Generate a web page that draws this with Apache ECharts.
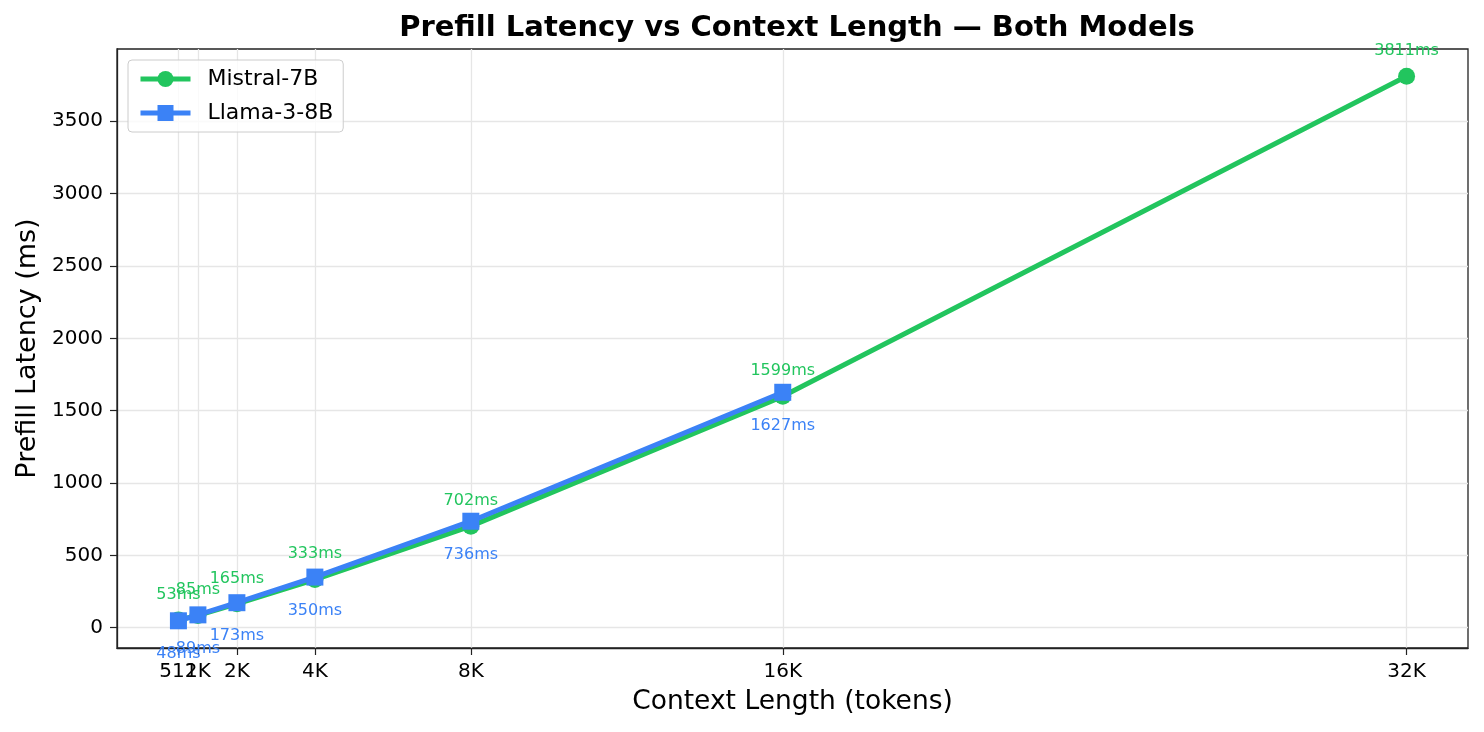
<!DOCTYPE html>
<html>
<head>
    <meta charset="utf-8">
    <script src="https://cdn.jsdelivr.net/npm/echarts@6/dist/echarts.min.js"></script>
    <style>
        body{
            margin:0;
            padding:0;
            background:#fff;
        }
    </style>
</head>
<body>
<div id="main" style="width:1484px;height:732px;"></div>
<script type="text/javascript">
// context lengths (tokens) and their tick labels
const ctxLengths = [512, 1024, 2048, 4096, 8192, 16384, 32768];
const ctxLabels = ['512', '1K', '2K', '4K', '8K', '16K', '32K'];
// prefill latency in ms
const mistralMs = [53, 85, 165, 333, 702, 1599, 3811];
const llamaMs = [48, 89, 173, 350, 736, 1627];
const yTicks = [0, 500, 1000, 1500, 2000, 2500, 3000, 3500];

const green = '#22c55e';
const blue = '#3b82f6';
const font = 'DejaVu Sans';

function pairs(ys) {
  return ys.map(function (y, i) { return [ctxLengths[i], y]; });
}
function ctxLabel(v) {
  var i = ctxLengths.indexOf(v);
  return i >= 0 ? ctxLabels[i] : '';
}

// 512 and 1K overlap, so the 1K label sits on a second bottom axis
// (ECharts would otherwise drop one of them)
const mainLabelValues = ctxLengths.filter(function (v) { return v !== 1024; });
const extraLabelValues = [1024];

var myChart = echarts.init(document.getElementById('main'));

var labelStyle = {
  hideOverlap: false,
  margin: 14,
  fontFamily: font,
  fontSize: 20,
  color: '#000',
  formatter: ctxLabel
};

option = {
  animation: false,
  textStyle: { fontFamily: font },
  title: {
    text: 'Prefill Latency vs Context Length \u2014 Both Models',
    left: 792,
    top: 9,
    textAlign: 'center',
    textStyle: { fontFamily: font, fontSize: 29, fontWeight: 'bold', color: '#000' }
  },
  legend: {
    orient: 'vertical',
    left: 128,
    top: 60,
    padding: [8, 10],
    itemWidth: 50,
    itemHeight: 20,
    itemGap: 12,
    backgroundColor: 'rgba(255,255,255,0.8)',
    borderColor: '#cccccc',
    borderWidth: 1,
    borderRadius: 4,
    lineStyle: { width: 5 },
    textStyle: { fontFamily: font, fontSize: 22, color: '#000', padding: [0, 0, 0, 12] },
    data: ['Mistral-7B', 'Llama-3-8B']
  },
  grid: {
    show: true,
    left: 117,
    top: 49,
    width: 1351,
    height: 599,
    borderColor: '#222',
    borderWidth: 1.3,
    containLabel: false
  },
  xAxis: [
    {
      type: 'value',
      position: 'bottom',
      min: -1101,
      max: 34381,
      name: 'Context Length (tokens)',
      nameLocation: 'middle',
      nameGap: 41,
      nameTextStyle: { fontFamily: font, fontSize: 26.5, color: '#000' },
      axisLine: { show: true, onZero: false, lineStyle: { color: '#222', width: 1.3 } },
      axisTick: { show: true, length: 7, customValues: ctxLengths, lineStyle: { color: '#222', width: 1.2 } },
      axisLabel: Object.assign({ customValues: mainLabelValues }, labelStyle),
      splitLine: { show: true, lineStyle: { color: '#e6e6e6', width: 1.3 } }
    },
    {
      type: 'value',
      position: 'bottom',
      min: -1101,
      max: 34381,
      axisLine: { show: false, onZero: false },
      axisTick: { show: false },
      axisLabel: Object.assign({ customValues: extraLabelValues }, labelStyle),
      splitLine: { show: false }
    }
  ],
  yAxis: {
    type: 'value',
    min: -140,
    max: 3999,
    name: 'Prefill Latency (ms)',
    nameLocation: 'middle',
    nameGap: 76,
    nameTextStyle: { fontFamily: font, fontSize: 27, color: '#000' },
    axisLine: { show: true, onZero: false, lineStyle: { color: '#222', width: 1.3 } },
    axisTick: { show: true, length: 7, customValues: yTicks, lineStyle: { color: '#222', width: 1.2 } },
    axisLabel: {
      customValues: yTicks,
      margin: 14,
      fontFamily: font,
      fontSize: 20,
      color: '#000',
      formatter: function (v) { return String(v); }
    },
    splitLine: { show: true, lineStyle: { color: '#e6e6e6', width: 1.3 } }
  },
  series: [
    {
      name: 'Mistral-7B',
      type: 'line',
      data: pairs(mistralMs),
      symbol: 'circle',
      symbolSize: 17,
      color: green,
      lineStyle: { width: 5, color: green },
      itemStyle: { color: green },
      label: {
        show: true,
        position: 'top',
        distance: 9,
        fontFamily: font,
        fontSize: 16,
        color: green,
        formatter: function (p) { return p.value[1] + 'ms'; }
      },
      labelLayout: { hideOverlap: false },
      z: 2
    },
    {
      name: 'Llama-3-8B',
      type: 'line',
      data: pairs(llamaMs),
      symbol: 'rect',
      symbolSize: 17,
      color: blue,
      lineStyle: { width: 5, color: blue },
      itemStyle: { color: blue },
      label: {
        show: true,
        position: 'bottom',
        distance: 17,
        fontFamily: font,
        fontSize: 16,
        color: blue,
        formatter: function (p) { return p.value[1] + 'ms'; }
      },
      labelLayout: { hideOverlap: false },
      z: 3
    }
  ]
};

myChart.setOption(option);
</script>
</body>
</html>
